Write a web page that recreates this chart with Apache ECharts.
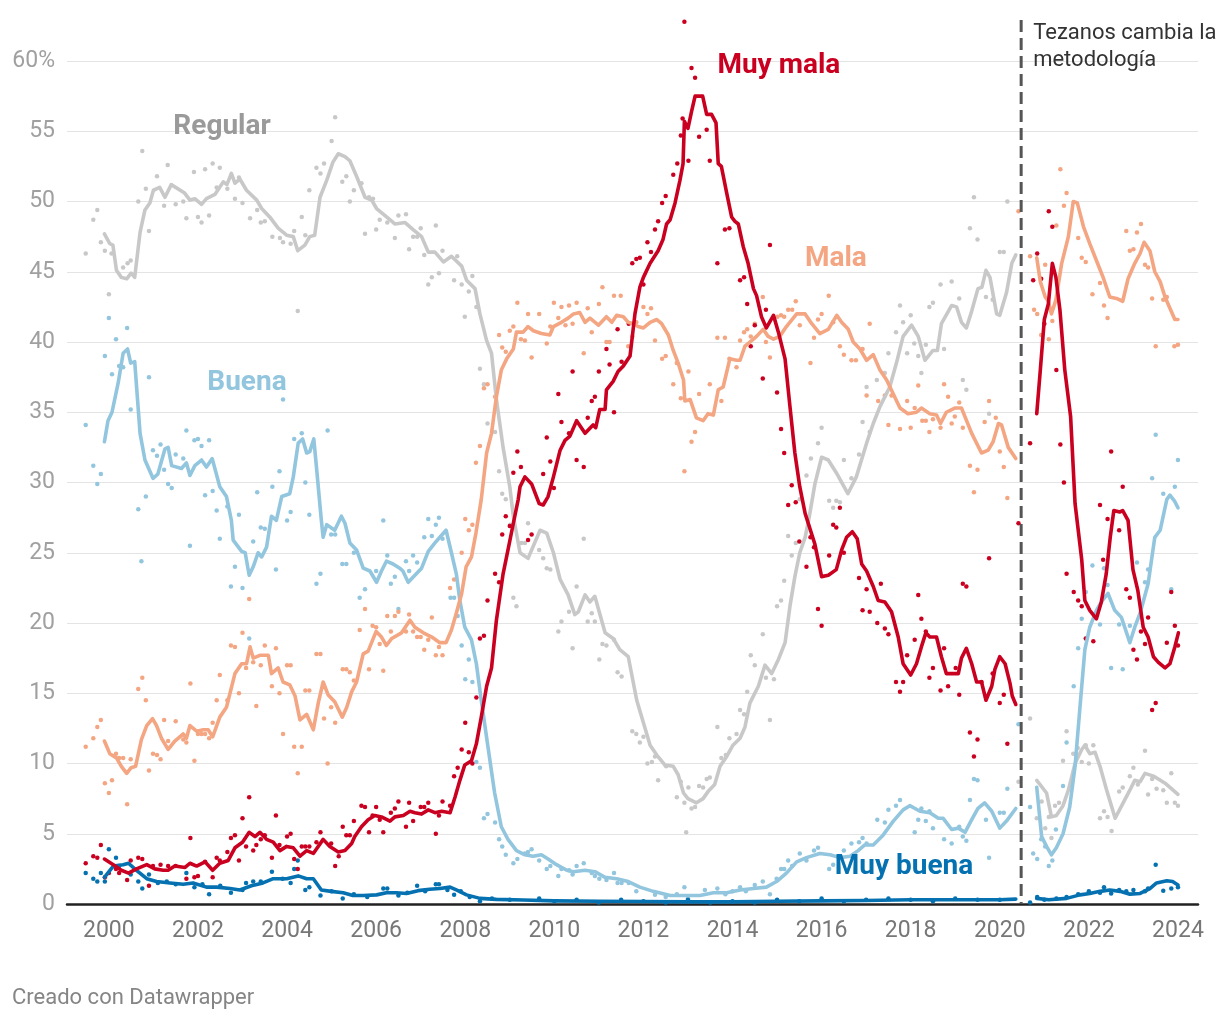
<!DOCTYPE html>
<html><head><meta charset="utf-8">
<script src="https://cdn.jsdelivr.net/npm/echarts@6/dist/echarts.min.js"></script>
<style>html,body{margin:0;padding:0;background:#fff}#c{width:1220px;height:1020px}</style>
</head><body><div id="c"></div>
<script>
// ---------- ticks ----------
const xTicks = [2000,2002,2004,2006,2008,2010,2012,2014,2016,2018,2020,2022,2024];
const breakYear = 2020.48;
const noteText = 'Tezanos cambia la\nmetodología';

// ---------- smoothed lines [year, %] ----------
const regularLine = [[1999.9,47.7],[2000.02,47.0],[2000.09,46.9],[2000.17,45.1],[2000.28,44.6],[2000.4,44.5],[2000.5,44.9],[2000.58,44.6],[2000.7,47.8],[2000.81,49.4],[2000.92,49.9],[2001.0,50.8],[2001.14,51.0],[2001.26,50.3],[2001.4,51.2],[2001.7,50.6],[2001.82,50.1],[2001.93,50.2],[2002.08,49.8],[2002.19,50.2],[2002.38,50.5],[2002.57,51.4],[2002.65,51.2],[2002.75,52.0],[2002.83,51.3],[2002.94,51.6],[2003.09,50.8],[2003.32,50.1],[2003.43,49.5],[2003.61,48.9],[2003.8,48.1],[2003.99,47.6],[2004.14,47.5],[2004.24,46.5],[2004.4,46.9],[2004.51,47.5],[2004.62,47.6],[2004.74,50.3],[2004.89,51.5],[2005.03,52.8],[2005.15,53.4],[2005.3,53.2],[2005.41,52.9],[2005.56,51.8],[2005.75,50.3],[2005.9,50.1],[2006.01,49.5],[2006.2,49.0],[2006.42,48.4],[2006.65,48.5],[2006.83,48.0],[2007.02,47.5],[2007.17,46.4],[2007.32,46.4],[2007.51,45.7],[2007.69,46.1],[2007.92,45.4],[2008.03,44.4],[2008.22,43.8],[2008.33,42.0],[2008.48,40.1],[2008.59,39.2],[2008.7,35.9],[2008.85,32.5],[2009.0,29.7],[2009.08,27.6],[2009.23,25.0],[2009.41,24.6],[2009.68,26.6],[2009.83,26.4],[2009.98,25.0],[2010.13,23.1],[2010.31,22.0],[2010.46,20.6],[2010.54,20.8],[2010.69,22.0],[2010.8,21.5],[2010.91,21.9],[2011.14,19.3],[2011.32,18.9],[2011.47,18.1],[2011.66,17.6],[2011.85,14.5],[2012.0,12.9],[2012.15,11.3],[2012.3,10.6],[2012.48,9.9],[2012.67,9.8],[2012.78,9.2],[2012.9,7.9],[2013.0,7.5],[2013.19,7.2],[2013.34,7.5],[2013.45,8.0],[2013.6,8.5],[2013.72,9.8],[2013.87,10.5],[2014.01,11.3],[2014.17,11.8],[2014.28,12.6],[2014.39,14.3],[2014.58,15.5],[2014.73,17.0],[2014.88,16.4],[2015.03,17.4],[2015.18,18.6],[2015.29,21.2],[2015.4,23.3],[2015.51,25.0],[2015.63,26.1],[2015.72,27.5],[2015.85,29.9],[2016.0,31.8],[2016.15,31.6],[2016.33,30.7],[2016.59,29.2],[2016.78,30.4],[2017.01,32.8],[2017.16,34.2],[2017.31,35.4],[2017.53,36.8],[2017.68,38.5],[2017.83,40.4],[2018.02,41.2],[2018.17,40.4],[2018.32,38.7],[2018.5,39.4],[2018.6,39.4],[2018.69,41.3],[2018.92,42.6],[2019.03,42.5],[2019.14,41.4],[2019.25,41.0],[2019.37,42.2],[2019.51,43.8],[2019.6,43.9],[2019.69,45.1],[2019.78,44.6],[2019.93,42.0],[2020.0,41.9],[2020.15,43.5],[2020.27,45.6],[2020.36,46.2]];
const regularLinePost = [[2020.83,8.8],[2021.05,7.9],[2021.16,6.2],[2021.27,6.3],[2021.42,7.0],[2021.54,8.1],[2021.69,10.0],[2021.84,11.0],[2021.91,11.3],[2022.02,10.7],[2022.14,10.8],[2022.25,9.8],[2022.4,8.1],[2022.59,6.1],[2022.77,7.2],[2022.92,8.1],[2023.03,8.8],[2023.15,8.7],[2023.26,9.3],[2023.45,9.1],[2023.56,8.9],[2023.71,8.6],[2023.82,8.3],[2024.0,7.8]];

const buenaLine = [[1999.9,32.9],[1999.98,34.4],[2000.07,35.0],[2000.21,37.1],[2000.32,39.2],[2000.42,39.5],[2000.49,38.5],[2000.58,38.6],[2000.7,33.5],[2000.81,31.6],[2000.99,30.3],[2001.1,30.6],[2001.26,32.4],[2001.33,32.5],[2001.41,31.2],[2001.63,31.0],[2001.74,31.4],[2001.82,30.5],[2001.93,31.2],[2002.08,31.6],[2002.19,31.1],[2002.32,31.7],[2002.49,29.7],[2002.64,29.0],[2002.75,27.3],[2002.79,25.9],[2002.98,25.1],[2003.06,25.0],[2003.15,23.4],[2003.24,24.0],[2003.35,25.0],[2003.43,24.7],[2003.54,25.4],[2003.65,27.6],[2003.76,27.3],[2003.88,29.0],[2004.06,29.2],[2004.14,30.4],[2004.25,32.8],[2004.35,33.1],[2004.44,32.1],[2004.51,32.2],[2004.6,33.1],[2004.66,31.1],[2004.77,27.3],[2004.81,26.1],[2004.89,27.0],[2005.07,26.6],[2005.22,27.6],[2005.3,27.1],[2005.41,25.7],[2005.56,25.2],[2005.71,23.9],[2005.86,23.7],[2006.01,22.9],[2006.12,23.7],[2006.23,24.4],[2006.38,24.2],[2006.53,23.9],[2006.6,23.7],[2006.72,22.9],[2006.87,23.4],[2007.02,23.9],[2007.17,25.1],[2007.32,25.7],[2007.43,26.1],[2007.57,26.6],[2007.69,25.0],[2007.8,23.5],[2007.88,21.6],[2007.99,19.7],[2008.14,18.8],[2008.25,17.1],[2008.36,14.5],[2008.51,11.2],[2008.66,7.9],[2008.81,5.5],[2008.96,4.6],[2009.15,3.8],[2009.34,3.5],[2009.52,3.4],[2009.71,3.5],[2009.86,3.2],[2010.05,2.8],[2010.28,2.4],[2010.43,2.3],[2010.69,2.4],[2010.91,2.3],[2011.14,1.9],[2011.4,1.8],[2011.66,1.6],[2011.92,1.2],[2012.22,0.9],[2012.6,0.6],[2012.97,0.6],[2013.27,0.6],[2013.57,0.8],[2013.87,0.8],[2014.17,1.0],[2014.47,1.1],[2014.76,1.2],[2014.99,1.6],[2015.21,2.2],[2015.44,3.0],[2015.66,3.3],[2015.96,3.6],[2016.19,3.5],[2016.41,3.3],[2016.64,3.4],[2016.82,3.8],[2016.97,4.2],[2017.16,4.2],[2017.38,4.9],[2017.61,5.9],[2017.83,6.7],[2017.98,7.0],[2018.21,6.6],[2018.43,6.5],[2018.62,6.1],[2018.73,6.1],[2018.92,5.3],[2019.07,5.4],[2019.22,5.1],[2019.37,6.0],[2019.51,6.8],[2019.66,7.2],[2019.82,6.6],[2020.0,5.4],[2020.15,5.9],[2020.36,6.8]];
const buenaLinePost = [[2020.83,8.3],[2020.94,4.8],[2021.05,4.1],[2021.16,3.5],[2021.27,4.0],[2021.42,5.0],[2021.57,6.9],[2021.69,9.8],[2021.8,14.0],[2021.91,18.1],[2022.02,19.7],[2022.17,20.9],[2022.3,21.6],[2022.43,22.1],[2022.58,20.9],[2022.73,20.4],[2022.92,18.6],[2023.03,19.7],[2023.15,20.7],[2023.33,22.8],[2023.48,26.1],[2023.6,26.6],[2023.75,28.8],[2023.82,29.1],[2023.92,28.7],[2024.0,28.2]];

const malaLine = [[1999.9,11.6],[2000.02,10.7],[2000.17,10.4],[2000.28,9.8],[2000.4,9.3],[2000.5,9.7],[2000.6,9.8],[2000.73,11.7],[2000.85,12.7],[2000.98,13.2],[2001.07,12.7],[2001.18,11.8],[2001.33,11.0],[2001.48,11.6],[2001.67,12.1],[2001.74,11.8],[2001.82,12.7],[2001.97,12.3],[2002.12,12.4],[2002.23,12.4],[2002.33,11.9],[2002.49,13.3],[2002.64,14.0],[2002.83,16.4],[2002.98,17.1],[2003.09,17.1],[2003.17,18.3],[2003.24,17.5],[2003.39,17.7],[2003.58,17.7],[2003.65,16.4],[2003.8,16.8],[2003.91,15.8],[2004.06,15.6],[2004.18,14.8],[2004.29,13.1],[2004.44,13.5],[2004.59,12.4],[2004.7,14.3],[2004.81,15.8],[2004.92,14.9],[2005.07,14.4],[2005.24,13.3],[2005.34,14.0],[2005.45,15.1],[2005.56,15.8],[2005.71,17.8],[2005.82,18.0],[2006.0,19.4],[2006.12,19.0],[2006.23,18.4],[2006.35,18.9],[2006.57,19.3],[2006.76,20.2],[2006.87,19.7],[2007.06,19.3],[2007.25,19.0],[2007.43,18.6],[2007.57,18.6],[2007.69,19.5],[2007.8,20.7],[2007.92,22.1],[2008.02,24.0],[2008.14,24.7],[2008.24,26.4],[2008.36,28.8],[2008.48,32.1],[2008.59,33.5],[2008.7,36.1],[2008.81,38.0],[2008.93,38.8],[2009.08,39.5],[2009.15,40.7],[2009.3,40.7],[2009.41,41.1],[2009.53,40.8],[2009.71,40.6],[2009.9,40.5],[2009.98,41.1],[2010.16,41.4],[2010.31,41.7],[2010.43,42.0],[2010.57,42.1],[2010.69,41.4],[2010.8,41.7],[2010.99,41.2],[2011.17,41.8],[2011.29,41.4],[2011.4,41.9],[2011.55,41.8],[2011.66,41.4],[2011.77,41.3],[2011.88,41.1],[2012.0,41.0],[2012.15,41.4],[2012.3,41.6],[2012.41,41.3],[2012.56,40.5],[2012.67,39.4],[2012.78,38.5],[2012.9,37.3],[2012.93,35.8],[2013.05,35.9],[2013.19,34.6],[2013.34,34.4],[2013.45,34.9],[2013.57,34.8],[2013.68,36.6],[2013.79,36.8],[2013.94,38.8],[2014.09,38.7],[2014.17,38.7],[2014.28,39.7],[2014.43,40.1],[2014.54,40.4],[2014.69,40.9],[2014.8,40.4],[2014.92,40.2],[2015.06,40.4],[2015.21,41.1],[2015.44,42.0],[2015.63,42.0],[2015.78,41.3],[2015.96,40.6],[2016.15,40.9],[2016.34,41.9],[2016.45,41.4],[2016.6,40.9],[2016.71,40.0],[2016.86,39.5],[2017.01,38.7],[2017.16,39.1],[2017.31,38.0],[2017.46,37.3],[2017.61,36.3],[2017.76,35.3],[2017.94,34.9],[2018.13,35.0],[2018.24,35.3],[2018.43,34.9],[2018.58,34.8],[2018.67,34.2],[2018.8,35.0],[2018.99,35.3],[2019.14,35.3],[2019.37,33.5],[2019.59,32.1],[2019.74,32.3],[2019.85,32.9],[2019.97,34.2],[2020.04,34.1],[2020.19,32.5],[2020.36,31.7]];
const malaLinePost = [[2020.83,46.0],[2020.91,44.3],[2021.02,43.2],[2021.09,42.9],[2021.16,42.0],[2021.26,43.0],[2021.39,45.6],[2021.54,47.5],[2021.65,50.0],[2021.74,49.9],[2021.88,48.2],[2022.02,47.0],[2022.17,45.8],[2022.32,44.6],[2022.47,43.2],[2022.62,43.1],[2022.76,42.9],[2022.88,44.5],[2023.03,45.6],[2023.15,46.3],[2023.24,47.1],[2023.37,46.5],[2023.48,45.0],[2023.6,44.3],[2023.71,43.2],[2023.82,42.4],[2023.93,41.6],[2024.0,41.6]];

const muyMalaLine = [[1999.9,3.2],[2000.1,2.8],[2000.28,2.4],[2000.44,2.2],[2000.62,2.5],[2000.85,2.8],[2001.03,2.5],[2001.22,2.4],[2001.33,2.4],[2001.48,2.7],[2001.71,2.6],[2001.82,2.9],[2001.97,2.7],[2002.16,3.0],[2002.33,2.4],[2002.49,2.9],[2002.68,3.1],[2002.83,4.0],[2003.0,4.4],[2003.15,5.1],[2003.28,4.8],[2003.39,5.1],[2003.54,4.6],[2003.69,4.4],[2003.84,3.8],[2003.99,4.1],[2004.14,4.0],[2004.29,3.4],[2004.44,3.8],[2004.59,3.6],[2004.81,4.6],[2004.96,4.1],[2005.15,3.7],[2005.3,3.8],[2005.45,4.3],[2005.52,4.8],[2005.67,5.5],[2005.82,6.0],[2005.97,6.3],[2006.12,6.2],[2006.31,5.9],[2006.42,6.2],[2006.61,6.3],[2006.76,6.6],[2006.87,6.5],[2007.02,6.4],[2007.17,6.7],[2007.32,6.5],[2007.47,6.6],[2007.66,6.5],[2007.77,7.6],[2007.88,8.8],[2007.99,9.9],[2008.14,10.2],[2008.25,11.4],[2008.36,13.3],[2008.48,15.5],[2008.59,16.8],[2008.7,20.2],[2008.85,23.5],[2008.96,25.2],[2009.08,27.1],[2009.19,28.8],[2009.23,29.7],[2009.34,30.4],[2009.49,29.9],[2009.66,28.5],[2009.75,28.4],[2009.86,29.0],[2009.98,30.4],[2010.13,32.3],[2010.24,33.0],[2010.35,33.3],[2010.5,34.4],[2010.69,33.5],[2010.87,34.1],[2010.93,33.9],[2011.02,35.2],[2011.14,35.2],[2011.17,36.6],[2011.32,37.2],[2011.43,37.9],[2011.55,38.3],[2011.7,39.0],[2011.81,42.0],[2011.92,43.9],[2012.0,44.6],[2012.15,45.6],[2012.33,46.5],[2012.44,47.3],[2012.52,48.4],[2012.6,48.7],[2012.71,49.9],[2012.82,51.5],[2012.89,52.7],[2012.92,55.7],[2013.0,55.2],[2013.08,56.4],[2013.16,57.5],[2013.33,57.5],[2013.42,56.2],[2013.53,56.2],[2013.63,55.6],[2013.68,52.7],[2013.75,52.5],[2013.87,50.6],[2013.98,48.9],[2014.05,48.6],[2014.13,48.4],[2014.24,46.8],[2014.35,45.6],[2014.47,43.8],[2014.54,43.3],[2014.65,41.8],[2014.76,41.0],[2014.92,41.9],[2015.03,40.7],[2015.18,38.8],[2015.29,35.4],[2015.4,32.1],[2015.51,29.7],[2015.63,27.8],[2015.77,26.4],[2015.85,25.6],[2016.0,23.3],[2016.15,23.4],[2016.33,23.8],[2016.45,25.2],[2016.56,26.1],[2016.69,26.5],[2016.8,26.0],[2016.9,24.2],[2017.01,23.7],[2017.16,22.6],[2017.27,21.6],[2017.42,21.5],[2017.57,20.8],[2017.72,19.0],[2017.83,17.1],[2018.0,16.3],[2018.13,17.1],[2018.24,18.3],[2018.34,19.3],[2018.43,19.0],[2018.58,19.0],[2018.69,17.6],[2018.8,16.4],[2019.07,16.4],[2019.14,17.5],[2019.25,18.2],[2019.37,17.1],[2019.48,15.8],[2019.59,15.8],[2019.69,14.5],[2019.82,15.5],[2019.89,16.7],[2020.0,17.6],[2020.12,17.1],[2020.23,15.7],[2020.28,14.8],[2020.36,14.2]];
const muyMalaLinePost = [[2020.83,34.9],[2020.91,38.0],[2021.0,41.6],[2021.09,42.7],[2021.18,45.6],[2021.26,44.6],[2021.35,42.3],[2021.46,38.0],[2021.59,34.7],[2021.69,28.5],[2021.84,24.5],[2021.91,21.6],[2022.02,20.9],[2022.17,20.3],[2022.28,21.5],[2022.39,23.5],[2022.48,26.1],[2022.56,28.0],[2022.69,27.9],[2022.76,28.0],[2022.88,27.3],[2022.99,23.8],[2023.1,22.3],[2023.22,19.7],[2023.33,19.0],[2023.45,17.6],[2023.56,17.2],[2023.71,16.8],[2023.82,17.1],[2023.93,18.3],[2024.01,19.3]];

const muyBuenaLine = [[1999.9,1.9],[2000.1,2.7],[2000.32,2.8],[2000.44,2.9],[2000.62,2.4],[2000.85,1.8],[2001.07,1.6],[2001.37,1.5],[2001.67,1.4],[2001.89,1.5],[2002.19,1.2],[2002.42,1.2],[2002.72,1.1],[2002.94,1.0],[2003.2,1.3],[2003.46,1.5],[2003.69,1.8],[2003.99,1.8],[2004.25,2.0],[2004.44,1.8],[2004.59,1.8],[2004.77,1.0],[2004.99,0.9],[2005.26,0.8],[2005.48,0.6],[2005.71,0.6],[2006.01,0.65],[2006.23,0.8],[2006.46,0.8],[2006.68,0.75],[2006.94,0.95],[2007.2,1.05],[2007.43,1.1],[2007.66,1.2],[2007.8,1.0],[2008.03,0.65],[2008.33,0.4],[2008.7,0.33],[2009.3,0.28],[2010.0,0.22],[2011.0,0.2],[2012.0,0.18],[2013.0,0.15],[2014.0,0.15],[2015.0,0.2],[2016.0,0.22],[2017.0,0.25],[2018.0,0.3],[2019.0,0.3],[2020.0,0.3],[2020.36,0.35]];
const muyBuenaLinePost = [[2020.83,0.4],[2021.1,0.3],[2021.5,0.4],[2021.8,0.65],[2022.02,0.75],[2022.25,0.9],[2022.47,1.0],[2022.7,0.9],[2022.92,0.7],[2023.15,0.75],[2023.37,1.1],[2023.52,1.5],[2023.75,1.65],[2023.88,1.6],[2024.0,1.35]];

// ---------- monthly survey dots [year, %] ----------
const regularDots = [[1999.48,46.3],[1999.65,48.7],[1999.74,49.4],[1999.82,47.1],[1999.91,46.5],[2000.0,43.4],[2000.06,46.3],[2000.32,45.3],[2000.42,45.6],[2000.49,45.8],[2000.66,50.0],[2000.75,53.6],[2000.83,50.9],[2000.9,47.9],[2001.08,51.8],[2001.24,49.7],[2001.32,52.6],[2001.5,49.8],[2001.67,50.0],[2001.74,48.8],[2001.91,52.1],[2002.0,48.9],[2002.08,48.5],[2002.16,52.3],[2002.25,49.0],[2002.33,52.7],[2002.42,51.0],[2002.49,52.4],[2002.66,50.9],[2002.83,50.2],[2002.92,51.7],[2003.0,49.9],[2003.17,48.8],[2003.33,49.4],[2003.41,48.5],[2003.5,48.6],[2003.67,47.5],[2003.84,47.4],[2003.91,47.1],[2004.08,47.0],[2004.16,47.9],[2004.24,42.2],[2004.33,48.9],[2004.41,47.6],[2004.5,50.8],[2004.66,52.4],[2004.75,52.0],[2004.83,52.7],[2005.0,54.3],[2005.08,56.0],[2005.24,51.4],[2005.33,51.8],[2005.41,50.0],[2005.5,50.8],[2005.67,51.3],[2005.75,47.7],[2005.84,50.3],[2005.93,50.2],[2006.0,48.0],[2006.08,48.7],[2006.25,48.5],[2006.42,47.4],[2006.5,49.0],[2006.67,49.1],[2006.74,46.6],[2006.83,47.5],[2006.92,47.5],[2007.0,48.1],[2007.08,46.2],[2007.17,44.1],[2007.25,44.6],[2007.34,48.3],[2007.41,44.9],[2007.49,46.5],[2007.75,44.4],[2007.82,46.1],[2007.92,44.1],[2007.99,41.8],[2008.08,43.6],[2008.16,44.7],[2008.25,42.5],[2008.33,38.1],[2008.42,37.0],[2008.5,34.2],[2008.67,33.6],[2008.76,30.8],[2008.83,29.2],[2008.91,28.8],[2009.01,27.0],[2009.08,21.8],[2009.15,21.2],[2009.26,25.7],[2009.34,25.7],[2009.41,27.1],[2009.66,25.2],[2009.75,24.6],[2009.83,23.9],[2009.91,23.8],[2010.09,19.4],[2010.16,20.1],[2010.33,20.8],[2010.41,18.2],[2010.5,22.6],[2010.66,26.0],[2010.75,20.1],[2010.84,20.7],[2010.91,20.1],[2011.01,17.4],[2011.08,18.5],[2011.17,18.4],[2011.34,18.8],[2011.42,16.5],[2011.51,16.2],[2011.75,12.3],[2011.84,12.1],[2011.92,11.5],[2012.0,11.9],[2012.09,10.0],[2012.19,10.1],[2012.26,10.5],[2012.33,8.8],[2012.51,9.8],[2012.75,7.6],[2012.84,8.7],[2012.92,7.2],[2012.96,5.1],[2013.01,8.3],[2013.08,6.8],[2013.16,6.9],[2013.25,8.4],[2013.34,8.3],[2013.42,8.9],[2013.49,9.0],[2013.66,12.6],[2013.75,10.4],[2013.85,10.6],[2013.93,11.8],[2014.09,12.1],[2014.17,13.8],[2014.26,13.5],[2014.33,15.1],[2014.41,17.7],[2014.5,17.0],[2014.68,19.2],[2014.75,16.1],[2014.84,13.1],[2014.93,16.0],[2015.0,21.2],[2015.09,21.6],[2015.16,23.0],[2015.25,26.2],[2015.33,24.8],[2015.42,25.7],[2015.51,28.8],[2015.66,30.5],[2015.76,31.7],[2015.92,32.8],[2016.0,33.9],[2016.17,28.7],[2016.26,28.2],[2016.33,28.7],[2016.41,28.6],[2016.5,31.6],[2016.67,30.3],[2016.84,32.0],[2016.92,34.3],[2017.01,36.8],[2017.08,33.6],[2017.24,37.3],[2017.42,37.8],[2017.5,39.2],[2017.67,40.7],[2017.76,42.6],[2017.83,41.4],[2017.92,39.2],[2018.0,41.9],[2018.08,39.9],[2018.17,39.0],[2018.24,37.8],[2018.34,39.8],[2018.42,42.5],[2018.5,42.8],[2018.67,44.1],[2018.75,39.5],[2018.92,44.3],[2019.09,43.1],[2019.17,37.3],[2019.25,36.6],[2019.33,48.1],[2019.42,50.3],[2019.5,47.3],[2019.69,43.2],[2019.76,34.9],[2019.84,43.0],[2020.0,46.4],[2020.09,46.4],[2020.17,50.0],[2020.42,8.7],[2020.68,13.2],[2020.83,6.1],[2020.94,7.3],[2021.02,5.4],[2021.1,6.2],[2021.16,4.7],[2021.24,7.0],[2021.33,7.2],[2021.42,10.2],[2021.5,12.3],[2021.65,10.7],[2021.75,11.1],[2021.84,10.1],[2021.93,11.3],[2022.0,10.0],[2022.1,11.3],[2022.25,6.1],[2022.34,6.6],[2022.42,6.2],[2022.51,5.2],[2022.68,8.0],[2022.76,8.3],[2022.92,9.1],[2023.0,9.7],[2023.1,8.5],[2023.26,10.9],[2023.33,7.8],[2023.42,8.9],[2023.52,8.2],[2023.67,8.1],[2023.75,7.2],[2023.85,9.3],[2023.93,7.2],[2024.0,7.0]];

const buenaDots = [[1999.48,34.1],[1999.65,31.2],[1999.74,29.9],[1999.82,30.6],[1999.91,39.0],[2000.0,41.7],[2000.07,37.7],[2000.16,40.2],[2000.23,38.3],[2000.32,38.2],[2000.41,41.0],[2000.49,35.2],[2000.66,28.1],[2000.73,24.4],[2000.83,29.0],[2000.9,37.5],[2000.99,32.3],[2001.08,31.9],[2001.16,32.7],[2001.24,30.9],[2001.33,29.9],[2001.41,29.6],[2001.5,32.0],[2001.67,31.7],[2001.74,33.7],[2001.82,25.5],[2001.92,33.0],[2002.0,33.1],[2002.08,32.6],[2002.16,29.1],[2002.25,33.0],[2002.33,29.4],[2002.42,28.0],[2002.49,26.0],[2002.66,28.3],[2002.74,22.6],[2002.83,24.0],[2002.92,27.7],[2003.0,22.5],[2003.15,18.9],[2003.24,25.8],[2003.33,29.3],[2003.41,26.8],[2003.5,26.7],[2003.67,29.7],[2003.75,23.8],[2003.83,30.8],[2003.91,35.9],[2004.0,27.3],[2004.08,27.9],[2004.16,33.1],[2004.33,33.5],[2004.41,30.0],[2004.5,27.7],[2004.66,22.8],[2004.75,23.5],[2004.91,33.7],[2004.99,26.3],[2005.08,26.3],[2005.24,24.2],[2005.33,24.2],[2005.5,25.0],[2005.63,21.8],[2005.75,22.4],[2006.0,23.7],[2006.16,27.3],[2006.25,24.8],[2006.33,22.8],[2006.42,23.3],[2006.5,21.0],[2006.67,24.4],[2006.74,23.7],[2006.83,24.8],[2006.92,24.3],[2007.08,26.1],[2007.17,27.4],[2007.25,26.2],[2007.34,27.0],[2007.41,27.5],[2007.49,26.0],[2007.67,21.8],[2007.75,21.8],[2007.83,20.5],[2007.92,18.4],[2008.0,16.0],[2008.08,17.4],[2008.16,15.8],[2008.25,10.1],[2008.33,9.7],[2008.42,6.1],[2008.5,6.4],[2008.67,5.8],[2008.76,4.6],[2008.83,4.1],[2008.91,3.5],[2009.08,2.9],[2009.17,3.2],[2009.34,3.6],[2009.41,3.7],[2009.49,3.9],[2009.66,3.1],[2009.83,2.5],[2009.91,2.7],[2010.09,2.0],[2010.16,2.5],[2010.33,2.4],[2010.41,2.1],[2010.5,2.7],[2010.66,2.9],[2010.84,2.2],[2010.91,2.0],[2011.01,1.8],[2011.17,1.7],[2011.34,2.2],[2011.42,1.5],[2011.51,1.5],[2011.67,1.5],[2011.84,0.9],[2012.26,0.65],[2012.5,0.5],[2012.75,0.7],[2012.92,1.2],[2013.0,0.4],[2013.38,1.0],[2013.66,1.1],[2013.84,0.7],[2014.0,0.9],[2014.17,1.2],[2014.3,0.9],[2014.5,1.35],[2014.68,1.6],[2014.84,0.7],[2014.99,1.8],[2015.09,2.5],[2015.16,2.5],[2015.25,3.1],[2015.34,2.7],[2015.51,3.6],[2015.66,3.1],[2015.83,3.8],[2015.92,4.0],[2016.17,2.5],[2016.26,2.8],[2016.5,3.8],[2016.67,4.3],[2016.84,4.4],[2016.92,4.7],[2017.01,4.3],[2017.25,6.0],[2017.42,5.8],[2017.5,6.7],[2017.67,7.0],[2017.76,7.4],[2018.09,5.1],[2018.17,6.0],[2018.24,6.8],[2018.34,5.9],[2018.42,6.6],[2018.5,5.4],[2018.75,4.6],[2018.92,4.3],[2019.09,5.5],[2019.17,4.8],[2019.25,4.5],[2019.33,7.4],[2019.42,8.9],[2019.5,8.8],[2019.69,6.0],[2019.76,3.3],[2020.0,6.5],[2020.09,6.5],[2020.17,8.2],[2020.42,12.8],[2020.68,6.9],[2020.75,3.6],[2020.84,3.2],[2020.93,4.6],[2021.02,4.1],[2021.1,2.7],[2021.18,3.1],[2021.26,5.3],[2021.42,8.4],[2021.5,11.5],[2021.66,15.5],[2021.76,18.2],[2021.84,20.3],[2021.93,22.2],[2022.08,24.1],[2022.25,19.9],[2022.34,23.9],[2022.42,22.7],[2022.5,16.8],[2022.68,19.9],[2022.76,16.7],[2022.92,19.8],[2023.08,24.3],[2023.26,22.9],[2023.33,23.8],[2023.42,30.3],[2023.5,33.4],[2023.67,29.2],[2023.85,22.4],[2023.93,29.7],[2024.0,31.6]];

const malaDots = [[1999.48,11.2],[1999.65,11.8],[1999.74,12.6],[1999.82,13.1],[1999.91,8.6],[2000.0,7.9],[2000.07,8.8],[2000.16,10.7],[2000.23,10.4],[2000.32,10.4],[2000.41,7.1],[2000.49,10.3],[2000.66,15.3],[2000.75,16.1],[2000.83,14.5],[2000.9,9.5],[2000.99,10.7],[2001.08,10.6],[2001.16,10.3],[2001.24,13.1],[2001.33,11.6],[2001.5,13.0],[2001.67,11.7],[2001.74,11.5],[2001.83,15.7],[2001.92,10.2],[2002.0,12.1],[2002.08,12.1],[2002.16,12.1],[2002.25,11.8],[2002.33,12.9],[2002.42,14.5],[2002.49,16.3],[2002.66,14.5],[2002.74,18.4],[2002.83,18.3],[2002.92,15.0],[2003.0,19.3],[2003.08,16.8],[2003.15,21.7],[2003.24,17.2],[2003.31,14.1],[2003.41,17.0],[2003.5,18.4],[2003.66,15.5],[2003.75,18.2],[2003.83,15.0],[2003.91,12.1],[2004.0,17.0],[2004.08,17.0],[2004.16,11.2],[2004.24,9.3],[2004.33,11.2],[2004.41,15.2],[2004.5,15.2],[2004.66,17.8],[2004.75,17.8],[2004.83,13.2],[2004.91,10.0],[2004.99,14.0],[2005.08,12.9],[2005.25,16.7],[2005.33,16.7],[2005.41,16.5],[2005.5,15.9],[2005.63,19.5],[2005.75,21.0],[2005.84,16.7],[2005.92,19.8],[2006.0,19.7],[2006.08,18.5],[2006.16,16.6],[2006.25,20.5],[2006.33,19.4],[2006.42,20.5],[2006.5,20.8],[2006.67,19.4],[2006.74,20.6],[2006.83,19.4],[2006.92,19.0],[2007.0,19.0],[2007.08,18.1],[2007.17,18.8],[2007.25,20.4],[2007.34,17.7],[2007.41,18.3],[2007.49,17.7],[2007.66,22.5],[2007.75,23.1],[2007.92,25.0],[2008.0,27.4],[2008.08,26.6],[2008.16,27.0],[2008.24,31.4],[2008.33,32.6],[2008.42,36.7],[2008.5,37.0],[2008.67,36.1],[2008.76,40.5],[2008.83,39.6],[2008.91,39.3],[2009.0,40.8],[2009.08,41.1],[2009.17,42.8],[2009.25,40.2],[2009.34,40.1],[2009.41,42.0],[2009.49,38.9],[2009.66,42.0],[2009.83,39.9],[2009.91,41.1],[2009.99,42.8],[2010.09,41.7],[2010.16,42.5],[2010.25,41.2],[2010.33,42.6],[2010.41,41.3],[2010.5,42.8],[2010.66,39.2],[2010.75,42.4],[2010.84,40.7],[2011.0,42.7],[2011.08,43.9],[2011.17,40.0],[2011.24,40.0],[2011.34,43.3],[2011.49,43.3],[2011.66,39.7],[2011.75,40.4],[2011.84,41.4],[2012.0,42.5],[2012.09,42.0],[2012.17,42.4],[2012.26,40.1],[2012.42,38.8],[2012.5,39.0],[2012.67,37.0],[2012.75,38.5],[2012.84,36.0],[2012.92,30.8],[2013.01,37.9],[2013.08,32.9],[2013.16,33.6],[2013.25,36.3],[2013.49,37.0],[2013.66,40.3],[2013.75,35.8],[2013.83,40.3],[2013.93,38.8],[2014.09,38.2],[2014.17,40.1],[2014.26,40.7],[2014.33,40.9],[2014.41,40.4],[2014.5,41.3],[2014.68,43.2],[2014.75,40.0],[2014.84,38.9],[2015.01,41.8],[2015.09,41.9],[2015.16,41.8],[2015.25,42.3],[2015.34,42.3],[2015.42,42.9],[2015.51,41.2],[2015.75,38.5],[2015.83,40.3],[2015.92,41.6],[2016.0,42.0],[2016.16,43.3],[2016.26,41.4],[2016.41,39.7],[2016.5,39.1],[2016.67,38.7],[2016.77,38.7],[2016.92,39.5],[2017.01,36.2],[2017.08,41.3],[2017.27,35.8],[2017.42,36.2],[2017.5,34.1],[2017.57,36.2],[2017.76,33.8],[2017.92,35.8],[2018.0,33.9],[2018.09,35.3],[2018.17,36.9],[2018.26,34.4],[2018.34,34.4],[2018.42,33.6],[2018.5,34.5],[2018.67,33.9],[2018.75,37.0],[2018.84,36.1],[2018.92,34.2],[2018.99,34.7],[2019.09,35.7],[2019.17,33.9],[2019.33,31.2],[2019.42,29.3],[2019.5,30.9],[2019.66,34.3],[2019.76,35.8],[2019.91,34.6],[2020.0,32.2],[2020.09,31.1],[2020.17,28.9],[2020.42,49.3],[2020.68,46.1],[2020.77,42.3],[2020.84,42.0],[2020.93,40.5],[2021.02,45.5],[2021.1,40.2],[2021.18,41.5],[2021.27,48.3],[2021.36,52.3],[2021.44,49.7],[2021.5,50.6],[2021.76,47.4],[2021.84,46.0],[2021.93,45.7],[2022.08,43.4],[2022.25,44.2],[2022.34,42.6],[2022.42,41.7],[2022.84,47.9],[2022.92,46.5],[2023.0,46.6],[2023.08,47.8],[2023.17,48.4],[2023.26,45.5],[2023.33,45.3],[2023.42,43.1],[2023.5,39.7],[2023.67,43.0],[2023.75,43.2],[2023.92,39.7],[2024.0,39.8]];

const muyMalaDots = [[1999.48,2.9],[1999.65,3.4],[1999.74,3.3],[1999.82,4.2],[1999.91,1.9],[2000.0,2.2],[2000.16,2.5],[2000.23,2.2],[2000.41,1.7],[2000.49,3.1],[2000.66,3.3],[2000.75,3.2],[2000.9,1.3],[2000.99,2.7],[2001.16,2.8],[2001.33,2.7],[2001.5,2.7],[2001.74,1.8],[2001.83,4.7],[2001.92,1.9],[2002.0,2.0],[2002.16,3.0],[2002.33,1.9],[2002.42,3.3],[2002.49,3.1],[2002.66,3.7],[2002.74,4.7],[2002.83,4.9],[2002.92,3.1],[2003.0,6.1],[2003.08,4.1],[2003.15,7.6],[2003.24,3.8],[2003.31,4.2],[2003.41,4.6],[2003.5,4.9],[2003.66,3.3],[2003.75,6.3],[2003.83,4.2],[2004.0,4.8],[2004.08,5.0],[2004.16,3.2],[2004.24,2.5],[2004.33,4.1],[2004.41,4.1],[2004.5,4.1],[2004.66,4.4],[2004.75,5.1],[2004.99,4.3],[2005.08,2.7],[2005.16,3.4],[2005.25,5.5],[2005.33,4.9],[2005.41,4.9],[2005.5,5.9],[2005.67,7.0],[2005.75,6.9],[2005.84,5.1],[2005.92,6.3],[2006.0,6.9],[2006.08,6.0],[2006.16,5.1],[2006.33,6.5],[2006.42,6.8],[2006.5,7.3],[2006.67,5.5],[2006.74,7.2],[2006.83,5.9],[2007.0,6.9],[2007.08,6.9],[2007.17,7.2],[2007.34,5.0],[2007.41,6.3],[2007.49,7.3],[2007.66,7.0],[2007.75,9.1],[2007.83,9.7],[2007.92,11.0],[2008.0,12.9],[2008.08,10.8],[2008.16,10.0],[2008.25,14.7],[2008.33,18.9],[2008.42,19.1],[2008.5,21.6],[2008.67,23.5],[2008.76,22.9],[2008.83,26.3],[2008.91,27.6],[2009.0,26.9],[2009.08,30.7],[2009.17,32.2],[2009.25,31.1],[2009.41,25.9],[2009.49,26.3],[2009.75,30.6],[2009.83,33.2],[2009.91,31.5],[2009.99,29.6],[2010.09,36.3],[2010.16,34.3],[2010.33,33.5],[2010.41,37.9],[2010.5,31.6],[2010.66,31.1],[2010.75,34.6],[2010.84,35.8],[2010.91,36.1],[2011.0,37.9],[2011.17,39.5],[2011.24,38.4],[2011.34,35.0],[2011.42,40.9],[2011.51,38.6],[2011.67,41.3],[2011.75,45.6],[2011.84,45.9],[2011.92,46.0],[2012.0,44.1],[2012.09,47.1],[2012.17,46.4],[2012.26,48.0],[2012.33,48.6],[2012.42,49.9],[2012.5,50.4],[2012.67,51.9],[2012.76,52.7],[2012.84,54.7],[2012.88,55.9],[2012.92,62.8],[2013.01,52.9],[2013.08,59.5],[2013.16,58.8],[2013.25,54.6],[2013.42,55.1],[2013.49,52.9],[2013.66,45.6],[2013.83,48.0],[2013.93,48.1],[2014.17,44.4],[2014.26,44.6],[2014.33,42.7],[2014.41,39.7],[2014.5,41.2],[2014.68,37.4],[2014.75,42.3],[2014.84,46.9],[2015.0,36.4],[2015.09,33.8],[2015.16,32.1],[2015.25,28.4],[2015.33,29.8],[2015.42,28.6],[2015.5,25.8],[2015.66,24.0],[2015.75,26.1],[2015.83,25.4],[2015.92,21.0],[2016.0,19.8],[2016.17,24.8],[2016.26,27.0],[2016.33,26.8],[2016.41,28.2],[2016.5,25.0],[2016.84,23.2],[2016.92,20.9],[2017.01,22.4],[2017.08,20.8],[2017.25,20.0],[2017.33,22.8],[2017.42,19.6],[2017.5,19.2],[2017.67,15.8],[2017.76,15.1],[2017.83,15.8],[2017.92,17.7],[2018.09,18.8],[2018.17,22.0],[2018.24,20.3],[2018.34,19.4],[2018.42,16.1],[2018.5,16.8],[2018.67,15.2],[2018.75,18.2],[2018.84,15.5],[2019.01,16.8],[2019.09,14.9],[2019.17,22.8],[2019.25,22.6],[2019.33,12.2],[2019.42,10.5],[2019.5,11.7],[2019.59,15.8],[2019.76,24.6],[2019.84,16.4],[2020.0,14.3],[2020.09,14.9],[2020.17,11.4],[2020.42,27.1],[2020.68,32.8],[2020.75,44.4],[2020.84,46.3],[2020.93,44.5],[2021.0,41.3],[2021.1,49.3],[2021.18,48.2],[2021.27,38.0],[2021.36,32.7],[2021.44,30.0],[2021.5,23.5],[2021.66,22.2],[2021.76,21.6],[2021.84,21.2],[2021.93,18.9],[2022.1,18.7],[2022.25,28.4],[2022.32,24.5],[2022.42,27.4],[2022.5,32.2],[2022.68,26.6],[2022.76,29.7],[2022.84,22.4],[2022.92,21.8],[2023.0,18.1],[2023.08,17.4],[2023.17,19.4],[2023.26,18.5],[2023.33,20.4],[2023.42,13.8],[2023.5,14.3],[2023.75,18.6],[2023.85,22.2],[2023.93,19.8],[2024.0,18.4]];

const muyBuenaDots = [[1999.48,2.2],[1999.65,1.8],[1999.74,1.6],[1999.82,2.2],[1999.91,1.6],[2000.0,3.9],[2000.16,3.3],[2000.23,2.7],[2000.49,2.1],[2000.66,1.6],[2000.75,1.1],[2000.9,2.1],[2001.1,1.5],[2001.3,1.6],[2001.5,1.4],[2001.74,2.2],[2001.92,1.2],[2002.1,1.4],[2002.25,0.7],[2002.5,1.3],[2002.74,0.8],[2003.0,1.0],[2003.08,1.5],[2003.24,1.6],[2003.41,1.6],[2003.66,2.3],[2003.9,1.8],[2004.08,1.5],[2004.16,2.5],[2004.24,3.1],[2004.41,1.0],[2004.5,1.2],[2004.75,0.6],[2005.0,0.9],[2005.25,0.4],[2005.5,0.7],[2005.8,0.5],[2006.16,1.1],[2006.25,1.1],[2006.5,0.6],[2006.7,0.8],[2006.92,1.3],[2007.1,0.9],[2007.34,1.4],[2007.41,1.4],[2007.6,1.0],[2007.75,0.65],[2007.9,0.9],[2008.1,0.5],[2008.33,0.2],[2008.6,0.4],[2009.0,0.3],[2009.66,0.4],[2010.0,0.2],[2010.5,0.3],[2011.0,0.1],[2011.5,0.3],[2012.0,0.2],[2012.5,0.1],[2013.0,0.3],[2013.5,0.1],[2014.0,0.2],[2014.5,0.1],[2015.0,0.3],[2015.5,0.2],[2016.0,0.4],[2016.5,0.2],[2017.0,0.3],[2017.5,0.4],[2018.0,0.3],[2018.5,0.2],[2019.0,0.4],[2019.5,0.3],[2020.0,0.3],[2020.68,0.1],[2020.84,0.5],[2021.0,0.3],[2021.27,0.4],[2021.5,0.5],[2021.76,0.7],[2022.0,0.9],[2022.25,0.8],[2022.34,1.2],[2022.5,0.75],[2022.68,1.0],[2022.84,0.9],[2023.0,1.0],[2023.26,0.9],[2023.33,1.1],[2023.5,2.8],[2023.67,0.95],[2023.85,1.1],[2024.0,1.2]];

// ---------- series names & label anchors (data coordinates) ----------
const seriesNames = ['Regular','Buena','Mala','Muy buena','Muy mala'];
const labelAnchors = {'Regular':[2002.54,55.3],'Buena':[2003.1,37.08],'Muy mala':[2015.04,59.64],'Mala':[2016.32,45.91],'Muy buena':[2017.85,2.63]};

// ---------- styling ----------
const colors = {'Regular':'#c8c8c8','Buena':'#92c5de','Mala':'#f4a582','Muy buena':'#0571b0','Muy mala':'#ca0020'};
const labelColors = {'Regular':'#9a9a9a','Buena':'#92c5de','Mala':'#f4a582','Muy buena':'#0571b0','Muy mala':'#ca0020'};
const FONT = 'Roboto, "Noto Sans", sans-serif';

const lines = {
  'Regular':[regularLine, regularLinePost],
  'Buena':[buenaLine, buenaLinePost],
  'Mala':[malaLine, malaLinePost],
  'Muy buena':[muyBuenaLine, muyBuenaLinePost],
  'Muy mala':[muyMalaLine, muyMalaLinePost]
};
const dots = {'Regular':regularDots,'Buena':buenaDots,'Mala':malaDots,'Muy buena':muyBuenaDots,'Muy mala':muyMalaDots};

const series = [];
seriesNames.forEach((n) => {
  series.push({type:'scatter', name:n+' dots', data:dots[n], symbolSize:4.5, itemStyle:{color:colors[n], opacity:1}, clip:false, silent:true, z:1});
});
seriesNames.forEach((n, i) => {
  lines[n].forEach((seg) => {
    series.push({type:'line', name:n, data:seg, symbol:'none', showSymbol:false, clip:false, silent:true,
      lineStyle:{color:colors[n], width:3.6, join:'round', cap:'round', opacity:1}, z:2+i});
  });
});
series.push({
  type:'scatter', name:'labels', silent:true, symbolSize:1, clip:false, z:20,
  itemStyle:{color:'rgba(0,0,0,0)'},
  data: Object.keys(labelAnchors).map(k => ({name:k, value:labelAnchors[k],
    label:{show:true, position:'inside', formatter:'{b}', color:labelColors[k], opacity:1,
      textBorderWidth:0, textBorderColor:'transparent', textShadowBlur:0,
      fontSize:28, fontWeight:'bold', fontFamily:FONT}}))
});

const chart = echarts.init(document.getElementById('c'), null, {renderer:'canvas', width:1220, height:1020});
chart.setOption({
  animation:false,
  backgroundColor:'#fff',
  grid:{left:67, right:22, top:61, bottom:116, containLabel:false, outerBoundsMode:'none'},
  xAxis:{type:'value', min:1999.06, max:2024.45,
    axisLine:{show:true, onZero:false, lineStyle:{color:'#222', width:2.5}},
    axisTick:{show:false}, splitLine:{show:false},
    axisLabel:{customValues:xTicks, color:'#777', fontSize:23, fontFamily:FONT, margin:16, formatter:v=>String(v)}},
  yAxis:{type:'value', min:0, max:60, interval:5,
    axisLine:{show:false}, axisTick:{show:false},
    splitLine:{show:true, lineStyle:{color:'#e4e4e4', width:1.2}},
    axisLabel:{color:'#a0a0a0', fontSize:23, fontFamily:FONT, margin:12, formatter:v => v===60 ? '60%' : String(v)}},
  series: series
});

// annotation: methodology change, positioned via the chart's own scale
const p0 = chart.convertToPixel({xAxisIndex:0, yAxisIndex:0}, [breakYear, 0]);
chart.setOption({
  graphic:[
    {type:'line', silent:true, z:30, shape:{x1:p0[0], y1:20, x2:p0[0], y2:p0[1]},
      style:{stroke:'#555', lineWidth:3, lineDash:[12,6]}},
    {type:'text', silent:true, z:30, left:p0[0]+12, top:20,
      style:{text:noteText, fill:'#333', font:'22px ' + FONT, lineHeight:27}},
    {type:'text', silent:true, z:30, left:12, top:987,
      style:{text:'Creado con Datawrapper', fill:'#858585', font:'22px ' + FONT}}
  ]
});
</script>
</body></html>
